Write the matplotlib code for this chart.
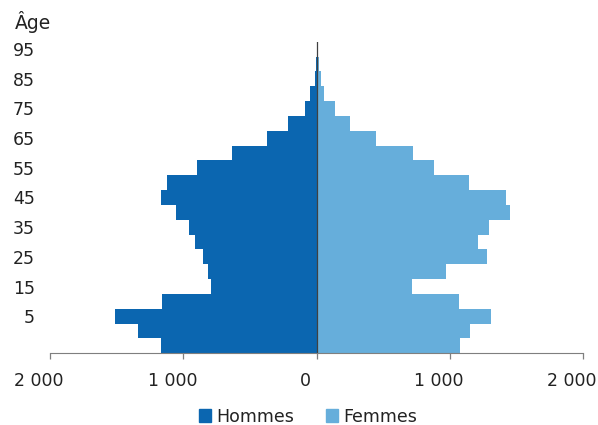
import matplotlib.pyplot as plt
from matplotlib.ticker import FuncFormatter, FixedLocator
from matplotlib.patches import Patch
from matplotlib.transforms import ScaledTranslation

# Tranches d'âge (de bas en haut), étiquette affichée une tranche sur deux
tranches = list(range(21))
etiquettes_age = ["", "", "5", "", "15", "", "25", "", "35", "", "45",
                  "", "55", "", "65", "", "75", "", "85", "", "95"]

hommes = [1170, 1343, 1513, 1163, 795, 813, 855, 913, 955, 1055, 1168,
          1125, 900, 633, 368, 213, 88, 50, 15, 5, 0]
femmes = [1075, 1150, 1313, 1070, 713, 975, 1280, 1213, 1295, 1450, 1422,
          1143, 880, 725, 450, 250, 137, 57, 30, 17, 0]

couleur_h = "#0B66B0"
couleur_f = "#66AEDB"


def milliers(x, pos):
    return f"{abs(int(round(x))):,}".replace(",", " ")


fig = plt.figure(figsize=(5.98, 4.25), dpi=100)
ax = fig.add_axes([0.0836, 0.1687, 0.975 - 0.0836, 0.9019 - 0.1687])

ax.barh(tranches, [-v for v in hommes], height=1.0, color=couleur_h, linewidth=0)
ax.barh(tranches, femmes, height=1.0, color=couleur_f, linewidth=0)
ax.axvline(0, color="#404040", lw=0.9)

ax.set_xlim(-2000, 2000)
ax.set_ylim(-0.5, 20.5)
ax.xaxis.set_major_locator(FixedLocator([-2000, -1000, 0, 1000, 2000]))
ax.xaxis.set_major_formatter(FuncFormatter(milliers))
ax.set_yticks(tranches)
ax.set_yticklabels(etiquettes_age)

for s in ["top", "right", "left"]:
    ax.spines[s].set_visible(False)
ax.spines["bottom"].set_color("#7f7f7f")
ax.tick_params(axis="x", direction="out", length=4.5, width=0.9,
               color="#7f7f7f", pad=9, labelsize=12.5, labelcolor="#222222")
ax.tick_params(axis="y", length=0, pad=11, labelsize=12.5, labelcolor="#222222")

# les étiquettes de l'axe horizontal sont un peu décalées vers la gauche
decalage = ScaledTranslation(-0.11, 0, fig.dpi_scale_trans)
for lab in ax.get_xticklabels():
    lab.set_transform(lab.get_transform() + decalage)

fig.text(0.025, 0.948, "Âge", fontsize=13.5, color="#222222", va="center")

poignees = [Patch(color=couleur_h, label="Hommes"), Patch(color=couleur_f, label="Femmes")]
fig.legend(handles=poignees, loc="center", bbox_to_anchor=(0.515, 0.02), ncol=2,
           frameon=False, fontsize=12.5, handlelength=0.7, handleheight=0.7,
           handletextpad=0.3, columnspacing=1.8, labelcolor="#222222")

fig.savefig("out.png", dpi=100)
